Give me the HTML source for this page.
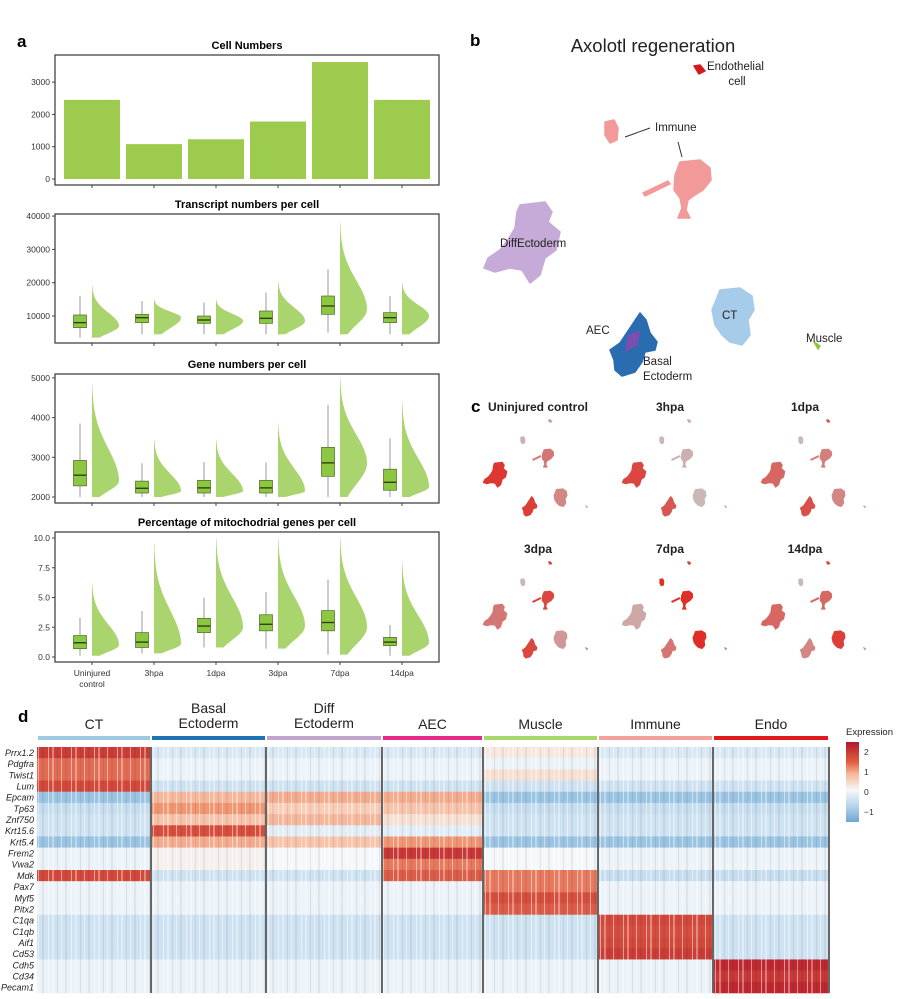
<!DOCTYPE html>
<html><head><meta charset="utf-8">
<style>
html,body{margin:0;padding:0;background:#fff;}
svg{display:block;font-family:"Liberation Sans",Arial,sans-serif;}
</style></head>
<body>
<svg id="fig" width="903" height="999" viewBox="0 0 903 999" xmlns="http://www.w3.org/2000/svg">
<defs>
<pattern id="stripes" width="23" height="10" patternUnits="userSpaceOnUse">
<rect x="2" y="0" width="1" height="10" fill="#fff" opacity="0.5"/>
<rect x="6" y="0" width="2" height="10" fill="#fff" opacity="0.35"/>
<rect x="11" y="0" width="1" height="10" fill="#000" opacity="0.08"/>
<rect x="15" y="0" width="1" height="10" fill="#fff" opacity="0.45"/>
<rect x="19" y="0" width="2" height="10" fill="#000" opacity="0.06"/>
</pattern>
<linearGradient id="cbar" x1="0" y1="0" x2="0" y2="1">
<stop offset="0" stop-color="#b2182b"/><stop offset="0.25" stop-color="#e0603e"/>
<stop offset="0.4" stop-color="#f7b799"/><stop offset="0.6" stop-color="#f5f8fb"/>
<stop offset="0.8" stop-color="#b7d4ea"/><stop offset="1" stop-color="#6ea6d2"/>
</linearGradient>
</defs>
<text x="17" y="47" font-size="17" font-weight="bold">a</text>
<text x="470" y="46" font-size="17" font-weight="bold">b</text>
<text x="471" y="412" font-size="17" font-weight="bold">c</text>
<text x="18" y="722" font-size="17" font-weight="bold">d</text>
</svg>
<script>
// ---------- data ----------
const categories = ["Uninjured control","3hpa","1dpa","3dpa","7dpa","14dpa"];
const cellNumbers = [2450,1080,1230,1780,3620,2450];
const cellTicks = [0,1000,2000,3000];
// box stats: [q1, median, q3, whiskerLow, whiskerHigh]
const transcriptBox = [[6500,8000,10300,3500,16000],[8000,9500,10500,4500,14500],[7800,8800,10000,4500,14000],[7800,9300,11500,4500,17000],[10500,13000,16000,5000,24000],[8000,9500,11000,4500,16000]];
// violin: [min, max, peak]
const transcriptViolin = [[3500,19000,7000],[4500,15000,9500],[4500,15000,8500],[4500,20500,8500],[4500,38000,12000],[4500,20000,10000]];
const transcriptTicks = [10000,20000,30000,40000];
const geneBox = [[2280,2550,2920,2000,3850],[2100,2220,2400,2000,2850],[2100,2230,2420,2000,2880],[2100,2230,2420,2000,2870],[2520,2860,3250,2000,4320],[2170,2370,2700,2000,3480]];
const geneViolin = [[2000,4850,2400],[2000,3450,2150],[2000,3450,2150],[2000,3850,2150],[2000,5000,2850],[2000,4400,2250]];
const geneTicks = [2000,3000,4000,5000];
const mitoBox = [[0.7,1.2,1.8,0.1,3.3],[0.8,1.25,2.05,0.3,3.85],[2.05,2.6,3.25,0.8,5.0],[2.2,2.75,3.55,0.7,5.45],[2.2,2.9,3.9,0.2,6.5],[0.95,1.25,1.65,0.1,2.7]];
const mitoViolin = [[0.1,6.2,1.0],[0.3,9.5,1.1],[0.8,10,2.5],[0.7,10,2.6],[0.2,10,2.5],[0.1,8,1.2]];
const mitoTicks = [0,2.5,5,7.5,10];
const mitoTickLabels = ["0.0","2.5","5.0","7.5","10.0"];

const umapClusters = ["DiffEctoderm","AEC","CT","ImmuneMain","ImmuneSmall","Endothelial","Muscle"];
const timepoints = ["Uninjured control","3hpa","1dpa","3dpa","7dpa","14dpa"];
const tpIntensity = [[0.9,0.85,0.4,0.5,0.15,0.3,0.2],[0.8,0.7,0.1,0.15,0.1,0.2,0.1],[0.6,0.75,0.4,0.45,0.1,0.7,0.2],[0.5,0.8,0.3,0.8,0.1,0.8,0.5],[0.2,0.5,0.95,0.95,0.95,0.8,0.5],[0.6,0.4,0.85,0.6,0.1,0.8,0.4]];

const hmClusters = ["CT","Basal Ectoderm","Diff Ectoderm","AEC","Muscle","Immune","Endo"];
const hmClusterColors = ["#9ecae1","#2171b5","#c2a5cf","#e7298a","#a6d96a","#f4a09c","#e31a1c"];
const hmGenes = ["Prrx1.2","Pdgfra","Twist1","Lum","Epcam","Tp63","Znf750","Krt15.6","Krt5.4","Frem2","Vwa2","Mdk","Pax7","Myf5","Pitx2","C1qa","C1qb","Aif1","Cd53","Cdh5","Cd34","Pecam1"];
const hmValues = [
 [1.8,1.3,1.3,1.6,-0.8,-0.5,-0.4,-0.4,-0.8,-0.1,-0.1,1.6,-0.1,-0.1,-0.1,-0.4,-0.4,-0.4,-0.4,-0.1,-0.1,-0.1],
 [-0.3,-0.1,-0.1,-0.4,0.7,1.0,0.6,1.5,0.8,0.1,0.1,-0.4,-0.1,-0.1,-0.1,-0.4,-0.4,-0.4,-0.4,-0.1,-0.1,-0.1],
 [-0.3,-0.1,-0.1,-0.4,0.8,0.5,0.7,-0.2,0.6,0.0,0.0,-0.4,-0.1,-0.1,-0.1,-0.4,-0.4,-0.4,-0.4,-0.1,-0.1,-0.1],
 [-0.3,-0.1,-0.1,-0.4,0.8,0.6,0.3,-0.2,1.0,1.9,1.2,1.4,-0.1,-0.1,-0.1,-0.4,-0.4,-0.4,-0.4,-0.1,-0.1,-0.1],
 [0.2,-0.1,0.3,-0.4,-0.8,-0.5,-0.4,-0.4,-0.8,0.0,0.0,1.2,1.2,1.5,1.4,-0.4,-0.4,-0.4,-0.4,-0.1,-0.1,-0.1],
 [-0.3,-0.1,-0.1,-0.4,-0.8,-0.5,-0.4,-0.4,-0.8,-0.1,-0.1,-0.5,-0.1,-0.1,-0.1,1.6,1.5,1.6,1.8,-0.1,-0.1,-0.1],
 [-0.3,-0.1,-0.1,-0.4,-0.8,-0.5,-0.4,-0.4,-0.8,-0.1,-0.1,-0.5,-0.1,-0.1,-0.1,-0.4,-0.4,-0.4,-0.4,2.2,1.9,2.2]
];
const legendTicks = [2,1,0,-1];

// ---------- helpers ----------
const NS="http://www.w3.org/2000/svg";
const svg=document.getElementById('fig');
function mk(tag,attrs,parent){const e=document.createElementNS(NS,tag);for(const k in attrs)e.setAttribute(k,attrs[k]);(parent||svg).appendChild(e);return e;}
function txt(s,attrs,parent){const e=mk('text',attrs,parent);e.textContent=s;return e;}

const frameL=55, frameR=439;
const xCat=i=>92+i*62;

function panelFrame(top,bottom,title,name){
  let t=txt(title,{x:247,y:top-6,'font-size':11,'font-weight':'bold','text-anchor':'middle'});
  
  
  let r=mk('rect',{x:frameL,y:top,width:frameR-frameL,height:bottom-top,fill:'none',stroke:'#444','stroke-width':1.3});
  
  
  categories.forEach((c,i)=>{
    let tk=mk('line',{x1:xCat(i),x2:xCat(i),y1:bottom,y2:bottom+3,stroke:'#444'});
    
    
  });
}
function yTicks(vals,labels,yf,name){
  vals.forEach((v,i)=>{
    let l=mk('line',{x1:frameL-3,x2:frameL,y1:yf(v),y2:yf(v),stroke:'#444'});
    
    
    let t=txt(labels?labels[i]:String(v),{x:frameL-5,y:yf(v)+3,'font-size':8.5,'text-anchor':'end',fill:'#333'});
    
    
  });
}

// ---------- chart 1: bars ----------
const y1=v=>179-v*0.0323;
panelFrame(55,185,"Cell Numbers","cell-numbers");
yTicks(cellTicks,null,y1,"cell-numbers");
cellNumbers.forEach((v,i)=>{
  let b=mk('rect',{x:xCat(i)-28,y:y1(v),width:56,height:y1(0)-y1(v),fill:'#9ccb4e'});
  
  
});

// ---------- box+violin ----------
function boxViolin(boxes,violins,yf,name){
  boxes.forEach((s,i)=>{
    const cx=xCat(i)-12;
    let w=mk('line',{x1:cx,x2:cx,y1:yf(s[3]),y2:yf(s[4]),stroke:'#999','stroke-width':1});
    
    
    let r=mk('rect',{x:cx-6.5,y:yf(s[2]),width:13,height:yf(s[0])-yf(s[2]),fill:'#8dc641',stroke:'#4d6b26','stroke-width':0.7});
    
    
    let m=mk('line',{x1:cx-6.5,x2:cx+6.5,y1:yf(s[1]),y2:yf(s[1]),stroke:'#2c4410','stroke-width':1.4});
    
    
    const vv=violins[i],mn=vv[0],mx=vv[1],pk=vv[2];
    const sLo=Math.max((pk-mn)/1.6,(mx-mn)*0.02), sHi=(mx-pk)/3;
    const x0=xCat(i);
    let d=`M${x0},${yf(mn)}`;
    for(let k=0;k<=60;k++){
      const v=mn+(mx-mn)*k/60, s=v<pk?sLo:sHi;
      const wv=Math.exp(-((v-pk)*(v-pk))/(2*s*s));
      d+=` L${(x0+27*wv).toFixed(2)},${yf(v).toFixed(2)}`;
    }
    d+=` L${x0},${yf(mx)} Z`;
    let p=mk('path',{d:d,fill:'#a9d46e'});
    
    
  });
}
const y2=v=>349.3-v*0.00333;
panelFrame(214,343,"Transcript numbers per cell","transcripts");
yTicks(transcriptTicks,null,y2,"transcripts");
boxViolin(transcriptBox,transcriptViolin,y2,"transcripts");

const y3=v=>497-(v-2000)*0.0397;
panelFrame(374,503,"Gene numbers per cell","genes");
yTicks(geneTicks,null,y3,"genes");
boxViolin(geneBox,geneViolin,y3,"genes");

const y4=v=>657-v*11.9;
panelFrame(532,662,"Percentage of mitochodrial genes per cell","mito");
yTicks(mitoTicks,mitoTickLabels,y4,"mito");
boxViolin(mitoBox,mitoViolin,y4,"mito");
categories.forEach((c,i)=>{
  const parts=c==="Uninjured control"?["Uninjured","control"]:[c];
  parts.forEach((p,j)=>{
    let t=txt(p,{x:xCat(i),y:676+j*11,'font-size':8.5,'text-anchor':'middle',fill:'#333'});
    
    
  });
});

// ---------- panel b: UMAP ----------
const blobPaths = {
 DiffEctoderm:"M520,205 L545,202 L552,212 L548,222 L560,232 L556,250 L545,258 L540,275 L530,283 L522,270 L510,268 L495,272 L484,268 L488,258 L500,250 L508,240 L515,228 L517,212 Z",
 AEC:"M640,313 L646,320 L650,333 L657,342 L655,350 L645,352 L642,362 L635,372 L622,376 L615,370 L614,360 L610,350 L620,343 L630,328 Z",
 CT:"M720,290 L740,288 L752,296 L754,310 L748,320 L750,335 L742,345 L730,342 L722,335 L715,325 L712,310 L716,300 Z",
 ImmuneMain:"M680,162 L700,160 L710,168 L711,180 L703,190 L695,195 L688,200 L686,210 L690,218 L678,218 L682,208 L680,198 L674,190 L675,175 Z M643,193 L668,181 L670,184 L645,196 Z",
 ImmuneSmall:"M605,122 L614,120 L618,128 L617,140 L610,143 L605,135 Z",
 Endothelial:"M694,66 L700,65 L705,71 L699,74 Z",
 Muscle:"M814,342 L820,346 L818,349 Z"
};
const bColors={DiffEctoderm:"#c6aad8",AEC:"#2a6cb0",CT:"#a6cce9",ImmuneMain:"#f29999",ImmuneSmall:"#f29999",Endothelial:"#d7191c",Muscle:"#8dc63f"};
let bt=txt("Axolotl regeneration",{x:653,y:52,'font-size':18.5,'text-anchor':'middle',fill:'#222'});


umapClusters.forEach(c=>{
  let p=mk('path',{d:blobPaths[c],fill:bColors[c],stroke:bColors[c],'stroke-width':1.5,'stroke-linejoin':'round'});
  
  
});
let inner=mk('path',{d:"M628,335 L640,330 L638,345 L625,352 Z",fill:'#7b4fb0'});


[[625,137,650,128],[678,142,682,157]].forEach(l=>{
  let ln=mk('line',{x1:l[0],y1:l[1],x2:l[2],y2:l[3],stroke:'#333','stroke-width':1});
  
  
});
[["Endothelial",707,70,'start'],["cell",737,85,'middle'],["Immune",655,131,'start'],["DiffEctoderm",500,247,'start'],["CT",722,319,'start'],["AEC",586,334,'start'],["Basal",643,365,'start'],["Ectoderm",643,380,'start'],["Muscle",806,342,'start']].forEach(l=>{
  let t=txt(l[0],{x:l[1],y:l[2],'font-size':11.5,'text-anchor':l[3],fill:'#222'});
  
  
});

// ---------- panel c ----------
function mix(t){const a=[200,200,200],b=[224,38,31];return `rgb(${a.map((v,i)=>Math.round(v+(b[i]-v)*t)).join(',')})`;}
timepoints.forEach((tp,i)=>{
  const col=i%3,row=Math.floor(i/3);
  const g=mk('g',{transform:`translate(${483+col*139},${420+row*142}) scale(0.31) translate(-483,-66)`});
  
  
  umapClusters.forEach((c,k)=>{
    let p=mk('path',{d:blobPaths[c],fill:mix(tpIntensity[i][k]),stroke:mix(tpIntensity[i][k]),'stroke-width':3,'stroke-linejoin':'round'},g);
    
    
  });
  let t=txt(tp,{x:[538,670,805][col],y:[411,553][row],'font-size':12,'font-weight':'bold','text-anchor':'middle',fill:'#222'});
  
  
});

// ---------- panel d: heatmap ----------
const colEdges=[37,151,266,382,483,598,713,829];
const hmTop=747,rowH=(993-747)/hmGenes.length;
function hmColor(v){
  const stops=[[-1.5,[110,166,210]],[-1,[127,178,218]],[-0.5,[198,221,239]],[0,[244,248,251]],[0.5,[249,206,184]],[1,[241,150,115]],[1.5,[214,78,62]],[2.5,[178,24,43]]];
  for(let i=0;i<stops.length-1;i++){const[a,ca]=stops[i],[b,cb]=stops[i+1];if(v<=b){const t=Math.max(0,(v-a)/(b-a));return `rgb(${ca.map((c,j)=>Math.round(c+(cb[j]-c)*t)).join(',')})`;}}
  return 'rgb(178,24,43)';
}
hmClusters.forEach((c,ci)=>{
  const x0=colEdges[ci]+1,x1=colEdges[ci+1]-1;
  let bar=mk('rect',{x:x0,y:736,width:x1-x0,height:4,fill:hmClusterColors[ci]});
  
  
  const parts=c.split(' ');
  parts.forEach((p,j)=>{
    let t=txt(p,{x:(x0+x1)/2,y:parts.length>1?713+j*15:729,'font-size':14,'text-anchor':'middle',fill:'#222'});
    
    
  });
  hmGenes.forEach((g,gi)=>{
    let r=mk('rect',{x:x0-1,y:hmTop+gi*rowH,width:x1-x0+2,height:rowH+0.3,fill:hmColor(hmValues[ci][gi])});
    
    
  });
});
let tex=mk('rect',{x:37,y:hmTop,width:792,height:993-hmTop,fill:'url(#stripes)'});


colEdges.slice(1).forEach(x=>{
  let l=mk('line',{x1:x,x2:x,y1:hmTop,y2:993,stroke:'#666','stroke-width':2});
  
  
});
hmGenes.forEach((g,gi)=>{
  let t=txt(g,{x:34,y:hmTop+gi*rowH+rowH/2+3.3,'font-size':9,'font-style':'italic','text-anchor':'end',fill:'#222'});
  
  
});
// legend
let lt=txt("Expression",{x:846,y:735,'font-size':9.5,fill:'#222'});


let cb=mk('rect',{x:846,y:742,width:13,height:80,fill:'url(#cbar)'});


const ly=v=>792-v*20;
legendTicks.forEach(v=>{
  let t=txt(v<0?"\u2212"+Math.abs(v):String(v),{x:864,y:ly(v)+3,'font-size':8.5,fill:'#333'});
  
  
});
</script>
</body></html>
